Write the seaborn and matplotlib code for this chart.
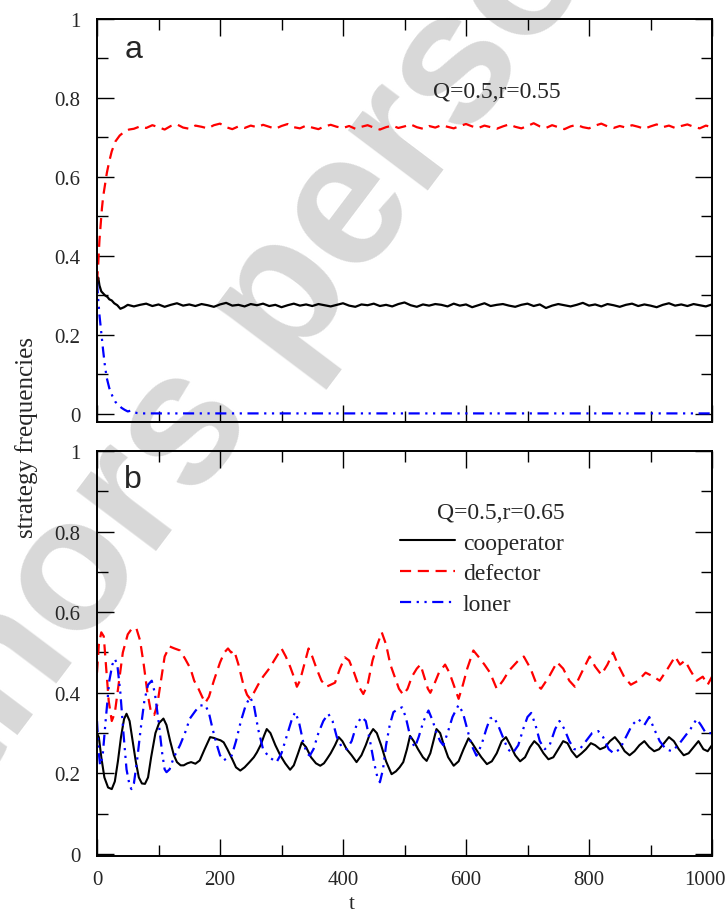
import numpy as np
import matplotlib
matplotlib.use('Agg')
import matplotlib.pyplot as plt
import matplotlib.transforms as mtransforms
import seaborn as sns
from matplotlib.ticker import MultipleLocator

# panel a: Q=0.5, r=0.55
t_a = [0, 2, 4, 6, 8, 10, 13, 16, 20, 24, 30, 37, 45, 52] + list(range(60, 1001, 10))
defector_a = [0.333, 0.38, 0.44, 0.48, 0.52, 0.55, 0.58, 0.61, 0.64, 0.665, 0.69, 0.705, 0.715, 0.72,
              0.722, 0.728, 0.724, 0.731, 0.726, 0.720, 0.729, 0.733, 0.725, 0.722,
              0.730, 0.727, 0.723, 0.731, 0.735, 0.726, 0.721, 0.728, 0.724, 0.730,
              0.726, 0.732, 0.727, 0.722, 0.729, 0.734, 0.726, 0.723, 0.730, 0.725,
              0.721, 0.728, 0.732, 0.727, 0.724, 0.729, 0.722, 0.727, 0.731, 0.725,
              0.720, 0.726, 0.730, 0.724, 0.728, 0.733, 0.726, 0.722, 0.729, 0.725,
              0.731, 0.727, 0.723, 0.729, 0.734, 0.728, 0.724, 0.730, 0.726, 0.722,
              0.728, 0.733, 0.727, 0.723, 0.729, 0.736, 0.728, 0.724, 0.731, 0.726,
              0.721, 0.728, 0.732, 0.726, 0.723, 0.730, 0.735, 0.728, 0.724, 0.729,
              0.725, 0.731, 0.727, 0.722, 0.728, 0.733, 0.726, 0.730, 0.724, 0.729,
              0.733, 0.727, 0.723, 0.730, 0.726]
t_ca = [0, 2, 4, 7, 10, 13, 17, 20, 24, 28, 33, 38, 44, 50, 55] + list(range(60, 1001, 10))
cooperator_a = [0.333, 0.345, 0.325, 0.31, 0.305, 0.30, 0.296, 0.29, 0.287, 0.28, 0.275, 0.266, 0.27, 0.276, 0.274,
                0.272, 0.276, 0.279, 0.273, 0.277, 0.271, 0.276, 0.280, 0.274, 0.277,
                0.273, 0.278, 0.275, 0.271, 0.277, 0.281, 0.274, 0.276, 0.272, 0.278,
                0.275, 0.279, 0.273, 0.276, 0.270, 0.275, 0.279, 0.274, 0.277, 0.273,
                0.278, 0.275, 0.272, 0.276, 0.280, 0.274, 0.271, 0.277, 0.275, 0.279,
                0.273, 0.276, 0.272, 0.278, 0.282, 0.275, 0.271, 0.277, 0.274, 0.278,
                0.276, 0.272, 0.279, 0.274, 0.277, 0.270, 0.275, 0.280, 0.273, 0.276,
                0.278, 0.274, 0.271, 0.276, 0.279, 0.273, 0.277, 0.268, 0.274, 0.278,
                0.275, 0.272, 0.276, 0.281, 0.274, 0.277, 0.272, 0.278, 0.275, 0.271,
                0.276, 0.279, 0.273, 0.277, 0.274, 0.270, 0.276, 0.280, 0.274, 0.277,
                0.273, 0.278, 0.275, 0.272, 0.277]
t_la = [0, 2, 4, 6, 8, 10, 13, 16, 20, 25, 30, 35, 40, 45, 50, 55, 60, 65, 70, 80, 1000]
loner_a = [0.333, 0.29, 0.25, 0.22, 0.19, 0.16, 0.12, 0.09, 0.065, 0.045, 0.03, 0.022, 0.015,
           0.01, 0.006, 0.008, 0.004, 0.002, 0.001, 0.001, 0.001]

# panel b: Q=0.5, r=0.65
t_db = [0, 3, 7, 11, 15, 19, 24, 29, 35, 42, 50, 57, 64, 70, 76, 82, 88, 93, 98, 104, 110, 118, 126,
        135, 143, 152, 158, 165, 171, 176, 182, 190, 200, 207, 213, 218, 223, 230, 238, 244, 249,
        255, 262, 270, 280, 292, 300, 307, 314, 320, 325, 330, 337, 344, 350, 357, 365, 373, 380,
        387, 395, 403, 410, 418, 426, 433, 440, 448, 456, 463, 470, 477, 484, 491, 498, 505, 512,
        520, 526, 532, 538, 542, 548, 556, 566, 573, 580, 588, 595, 602, 612, 620, 630, 639, 650,
        660, 670, 685, 694, 705, 715, 722, 735, 748, 758, 768, 777, 788, 801, 810, 820, 830, 839,
        847, 857, 868, 880, 892, 905, 915, 928, 940, 948, 956, 965, 975, 985, 993, 1000]
defector_b = [0.45, 0.52, 0.55, 0.54, 0.46, 0.38, 0.33, 0.35, 0.42, 0.50, 0.545, 0.56, 0.56, 0.53,
              0.47, 0.40, 0.35, 0.345, 0.37, 0.43, 0.49, 0.515, 0.51, 0.505, 0.485, 0.46, 0.43,
              0.41, 0.39, 0.375, 0.39, 0.43, 0.475, 0.50, 0.51, 0.50, 0.505, 0.47, 0.42, 0.395,
              0.385, 0.40, 0.42, 0.44, 0.46, 0.49, 0.51, 0.49, 0.465, 0.44, 0.415, 0.43, 0.47,
              0.51, 0.49, 0.46, 0.43, 0.415, 0.42, 0.425, 0.46, 0.488, 0.48, 0.45, 0.415, 0.397,
              0.42, 0.48, 0.52, 0.55, 0.52, 0.47, 0.44, 0.41, 0.395, 0.41, 0.44, 0.46, 0.47, 0.44,
              0.41, 0.40, 0.42, 0.45, 0.47, 0.45, 0.42, 0.385, 0.42, 0.46, 0.505, 0.49, 0.47, 0.45,
              0.41, 0.43, 0.455, 0.48, 0.49, 0.46, 0.42, 0.41, 0.44, 0.476, 0.46, 0.43, 0.415,
              0.45, 0.49, 0.465, 0.445, 0.47, 0.50, 0.47, 0.44, 0.42, 0.43, 0.45, 0.44, 0.43,
              0.46, 0.49, 0.47, 0.48, 0.455, 0.43, 0.44, 0.42, 0.44]
t_lb = [0, 3, 5, 9, 14, 20, 25, 29, 33, 38, 43, 48, 53, 56, 60, 65, 71, 77, 83, 89, 94, 100, 106,
        110, 113, 118, 125, 135, 143, 151, 160, 167, 176, 182, 188, 195, 200, 206, 213, 219, 226,
        234, 242, 249, 255, 262, 270, 280, 292, 300, 308, 316, 322, 328, 335, 341, 346, 352, 360,
        368, 376, 383, 390, 398, 406, 414, 422, 430, 437, 444, 450, 456, 460, 465, 470, 476, 482,
        490, 496, 502, 508, 513, 517, 523, 531, 539, 546, 552, 558, 563, 570, 578, 588, 595, 602,
        609, 617, 625, 633, 639, 645, 652, 660, 668, 676, 685, 693, 700, 706, 713, 720, 728, 736,
        745, 752, 760, 768, 776, 785, 795, 805, 815, 823, 832, 840, 850, 860, 870, 880, 890, 898,
        906, 915, 925, 935, 945, 955, 965, 975, 982, 990, 1000]
loner_b = [0.33, 0.25, 0.22, 0.24, 0.33, 0.43, 0.47, 0.484, 0.47, 0.40, 0.30, 0.21, 0.17, 0.161,
           0.175, 0.23, 0.31, 0.38, 0.42, 0.43, 0.40, 0.33, 0.25, 0.21, 0.203, 0.21, 0.24, 0.27,
           0.30, 0.336, 0.355, 0.368, 0.37, 0.35, 0.31, 0.27, 0.245, 0.232, 0.24, 0.244, 0.28,
           0.33, 0.37, 0.389, 0.37, 0.31, 0.26, 0.24, 0.228, 0.25, 0.29, 0.33, 0.352, 0.33, 0.28,
           0.25, 0.244, 0.26, 0.30, 0.33, 0.348, 0.33, 0.29, 0.265, 0.26, 0.28, 0.32, 0.34, 0.33,
           0.28, 0.23, 0.19, 0.178, 0.21, 0.27, 0.32, 0.352, 0.36, 0.364, 0.34, 0.30, 0.275, 0.265,
           0.29, 0.33, 0.356, 0.33, 0.30, 0.28, 0.27, 0.30, 0.34, 0.37, 0.35, 0.31, 0.27, 0.244,
           0.27, 0.31, 0.336, 0.34, 0.32, 0.29, 0.26, 0.25, 0.27, 0.31, 0.34, 0.35, 0.32, 0.28,
           0.26, 0.27, 0.31, 0.33, 0.31, 0.28, 0.26, 0.26, 0.28, 0.30, 0.305, 0.29, 0.26, 0.25,
           0.26, 0.29, 0.32, 0.335, 0.32, 0.34, 0.31, 0.28, 0.26, 0.255, 0.27, 0.29, 0.31, 0.335,
           0.32, 0.30, 0.30]
t_cb = [0, 3, 7, 12, 18, 24, 29, 34, 39, 44, 48, 53, 58, 63, 68, 73, 78, 83, 88, 95, 101, 108, 113,
        119, 125, 130, 136, 141, 147, 153, 160, 167, 175, 184, 190, 195, 201, 206, 212, 220, 226,
        233, 240, 248, 255, 260, 266, 272, 276, 282, 290, 298, 306, 314, 320, 327, 333, 340, 348,
        356, 363, 369, 374, 380, 387, 393, 399, 406, 414, 422, 430, 437, 443, 449, 455, 462, 470,
        479, 486, 492, 498, 504, 509, 515, 522, 530, 536, 542, 547, 552, 558, 564, 571, 580, 588,
        596, 604, 610, 617, 625, 634, 642, 650, 658, 665, 672, 680, 688, 696, 704, 711, 718, 726,
        734, 742, 750, 758, 765, 772, 780, 788, 795, 803, 810, 818, 826, 834, 842, 850, 858, 866,
        874, 882, 890, 898, 906, 914, 922, 930, 938, 946, 954, 962, 970, 978, 986, 993, 1000]
cooperator_b = [0.30, 0.29, 0.24, 0.19, 0.165, 0.161, 0.18, 0.23, 0.29, 0.335, 0.348, 0.33, 0.28,
                0.23, 0.19, 0.175, 0.174, 0.19, 0.24, 0.30, 0.325, 0.336, 0.32, 0.28, 0.245, 0.228,
                0.22, 0.22, 0.225, 0.228, 0.224, 0.232, 0.26, 0.29, 0.288, 0.285, 0.282, 0.277,
                0.26, 0.235, 0.215, 0.207, 0.215, 0.228, 0.24, 0.252, 0.27, 0.295, 0.31, 0.30,
                0.27, 0.245, 0.225, 0.209, 0.22, 0.25, 0.277, 0.265, 0.24, 0.225, 0.219, 0.225,
                0.236, 0.25, 0.27, 0.29, 0.28, 0.26, 0.245, 0.228, 0.245, 0.27, 0.295, 0.31, 0.30,
                0.27, 0.23, 0.198, 0.205, 0.215, 0.228, 0.26, 0.293, 0.28, 0.26, 0.24, 0.231, 0.25,
                0.28, 0.31, 0.30, 0.27, 0.24, 0.219, 0.23, 0.26, 0.287, 0.275, 0.258, 0.24, 0.223,
                0.23, 0.25, 0.28, 0.29, 0.27, 0.245, 0.23, 0.24, 0.265, 0.28, 0.27, 0.25, 0.235,
                0.24, 0.26, 0.28, 0.275, 0.255, 0.24, 0.25, 0.26, 0.275, 0.27, 0.26, 0.265, 0.28,
                0.29, 0.275, 0.255, 0.245, 0.255, 0.27, 0.28, 0.265, 0.255, 0.26, 0.275, 0.29, 0.28,
                0.26, 0.245, 0.25, 0.265, 0.28, 0.26, 0.255, 0.27]

labels = ['cooperator', 'defector', 'loner']
yticks = [0, 0.2, 0.4, 0.6, 0.8, 1]
ytick_labels = ['0', '0.2', '0.4', '0.6', '0.8', '1']
xticks = [0, 200, 400, 600, 800, 1000]
xtick_labels = ['0', '200', '400', '600', '800', '1000']

sns.set_style('ticks')
plt.rcParams['font.family'] = ['Liberation Serif', 'DejaVu Serif']

dash_red = (0, (5, 3))
dash_blue = (0, (5, 2.5, 1, 2.5, 1, 2.5))

fig = plt.figure(figsize=(7.28, 9.2), dpi=100)
fig.patch.set_facecolor('white')
W, H = 728, 920
ax_a = fig.add_axes([97 / W, 1 - 422.7 / H, 615 / W, 402.7 / H])
ax_b = fig.add_axes([97 / W, 1 - 857 / H, 615 / W, 405 / H])

# watermark behind the plots
fig.text(440 / W, 1 - 175 / H, 'Authors personal copy', family='Liberation Sans', weight='bold',
         fontsize=136, color='#d8d8d8', rotation=53, rotation_mode='anchor',
         ha='center', va='baseline', zorder=0)

for ax in (ax_a, ax_b):
    ax.set_zorder(1)
    ax.patch.set_alpha(0)

sns.lineplot(x=t_ca, y=cooperator_a, ax=ax_a, color='black', lw=1.6, estimator=None, sort=False)
sns.lineplot(x=t_a, y=defector_a, ax=ax_a, color='red', lw=1.6, linestyle=dash_red, estimator=None, sort=False)
sns.lineplot(x=t_la, y=loner_a, ax=ax_a, color='blue', lw=1.6, linestyle=dash_blue, estimator=None, sort=False)

sns.lineplot(x=t_cb, y=cooperator_b, ax=ax_b, color='black', lw=1.5, estimator=None, sort=False, label=labels[0])
sns.lineplot(x=t_db, y=defector_b, ax=ax_b, color='red', lw=1.6, linestyle=dash_red, estimator=None, sort=False, label=labels[1])
sns.lineplot(x=t_lb, y=loner_b, ax=ax_b, color='blue', lw=1.6, linestyle=dash_blue, estimator=None, sort=False, label=labels[2])

for ax, ylim in ((ax_a, (-0.02, 1.0)), (ax_b, (-0.005, 1.0))):
    ax.set_xlim(0, 1000)
    ax.set_ylim(*ylim)
    ax.set_yticks(yticks)
    ax.set_yticklabels(ytick_labels)
    ax.set_xticks(xticks)
    ax.xaxis.set_minor_locator(MultipleLocator(100))
    ax.yaxis.set_minor_locator(MultipleLocator(0.1))
    ax.tick_params(which='both', direction='in', top=True, right=True, width=1.0, color='black')
    ax.tick_params(which='major', length=12)
    ax.tick_params(which='minor', length=8)
    ax.tick_params(axis='y', which='major', pad=12, labelsize=15)
    ax.tick_params(axis='x', which='major', pad=10, labelsize=15)
    for s in ax.spines.values():
        s.set_linewidth(1.4)
        s.set_color('black')
    ax.set_xlabel('')
    ax.set_ylabel('')

ax_a.set_xticklabels([])
ax_b.set_xticklabels(xtick_labels)
# keep the last label inside the figure
last = ax_b.get_xticklabels()[-1]
last.set_transform(last.get_transform() + mtransforms.ScaledTranslation(-0.07, 0, fig.dpi_scale_trans))

ax_a.text(0.059, 0.906, 'a', transform=ax_a.transAxes, family='Liberation Sans', fontsize=23, va='baseline', ha='center')
ax_b.text(0.059, 0.911, 'b', transform=ax_b.transAxes, family='Liberation Sans', fontsize=23, va='baseline', ha='center')
ax_a.text(0.546, 0.819, 'Q=0.5,r=0.55', transform=ax_a.transAxes, fontsize=17, va='center', ha='left')
ax_b.text(0.553, 0.849, 'Q=0.5,r=0.65', transform=ax_b.transAxes, fontsize=17, va='center', ha='left')

ax_b.legend(loc='upper left', bbox_to_anchor=(0.493, 0.80), frameon=False, fontsize=17,
            handlelength=2.3, handletextpad=0.35, borderpad=0, borderaxespad=0, labelspacing=0.4)

fig.text(352 / W, 1 - 905 / H, 't', fontsize=15, ha='center', va='center')
fig.text(27 / W, 1 - 437 / H, 'strategy frequencies', fontsize=18, rotation=90, ha='center', va='center')

fig.savefig('out.png', dpi=100)
